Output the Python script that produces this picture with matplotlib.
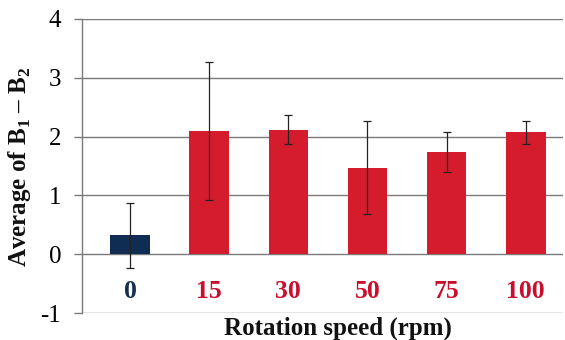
import matplotlib
matplotlib.use("Agg")
import matplotlib.pyplot as plt

categories = ["0", "15", "30", "50", "75", "100"]
means = [0.32, 2.10, 2.12, 1.47, 1.74, 2.07]
errors = [0.55, 1.17, 0.25, 0.79, 0.34, 0.20]
yticks = [-1, 0, 1, 2, 3, 4]

navy = "#0F2D52"
red = "#D41C2C"
bar_colors = [navy] + [red] * 5
label_colors = ["#14304F"] + ["#C8102E"] * 5

plt.rcParams["font.family"] = ["Liberation Serif", "DejaVu Serif"]
plt.rcParams["mathtext.fontset"] = "custom"
plt.rcParams["mathtext.rm"] = "Liberation Serif"
plt.rcParams["mathtext.bf"] = "Liberation Serif:bold"

fig = plt.figure(figsize=(5.65, 3.4), dpi=100)
ax = fig.add_axes([82 / 565, 1 - 313 / 340, (563 - 82) / 565, (313 - 19) / 340])

x = list(range(len(categories)))
ax.set_ylim(-1, 4)
ax.set_xlim(-0.606, 5.47)
ax.set_yticks(yticks)
ax.set_yticklabels([str(v) for v in yticks], fontsize=18)
ax.yaxis.grid(True, color="#7a7a7a", linewidth=1.0)
ax.set_axisbelow(True)
ax.tick_params(axis="y", length=6, width=1.0, color="#7a7a7a", pad=9)
ax.set_xticks([])

for s in ["top", "right", "bottom"]:
    ax.spines[s].set_visible(False)
ax.spines["left"].set_color("#7a7a7a")
ax.spines["left"].set_linewidth(1.0)

ax.bar(x, means, width=0.5, color=bar_colors, zorder=2)
ax.errorbar(x, means, yerr=errors, fmt="none", ecolor="#222222",
            elinewidth=0.9, capsize=3, capthick=0.9, zorder=3)

for xi, lab, c in zip(x, categories, label_colors):
    ax.text(xi, -0.63, lab, ha="center", va="center", fontsize=18.5,
            fontweight="bold", color=c)

fig.text(338 / 565, 1 - 328 / 340, "Rotation speed (rpm)", ha="center",
         va="center", fontsize=18, fontweight="bold", color="#111111")
fig.text(20 / 565, 1 - 167 / 340, r"Average of B$_\mathbf{1}$ – B$_\mathbf{2}$",
         rotation=90, ha="center", va="center", fontsize=18,
         fontweight="bold", color="#111111")

fig.savefig("out.png", dpi=100)
